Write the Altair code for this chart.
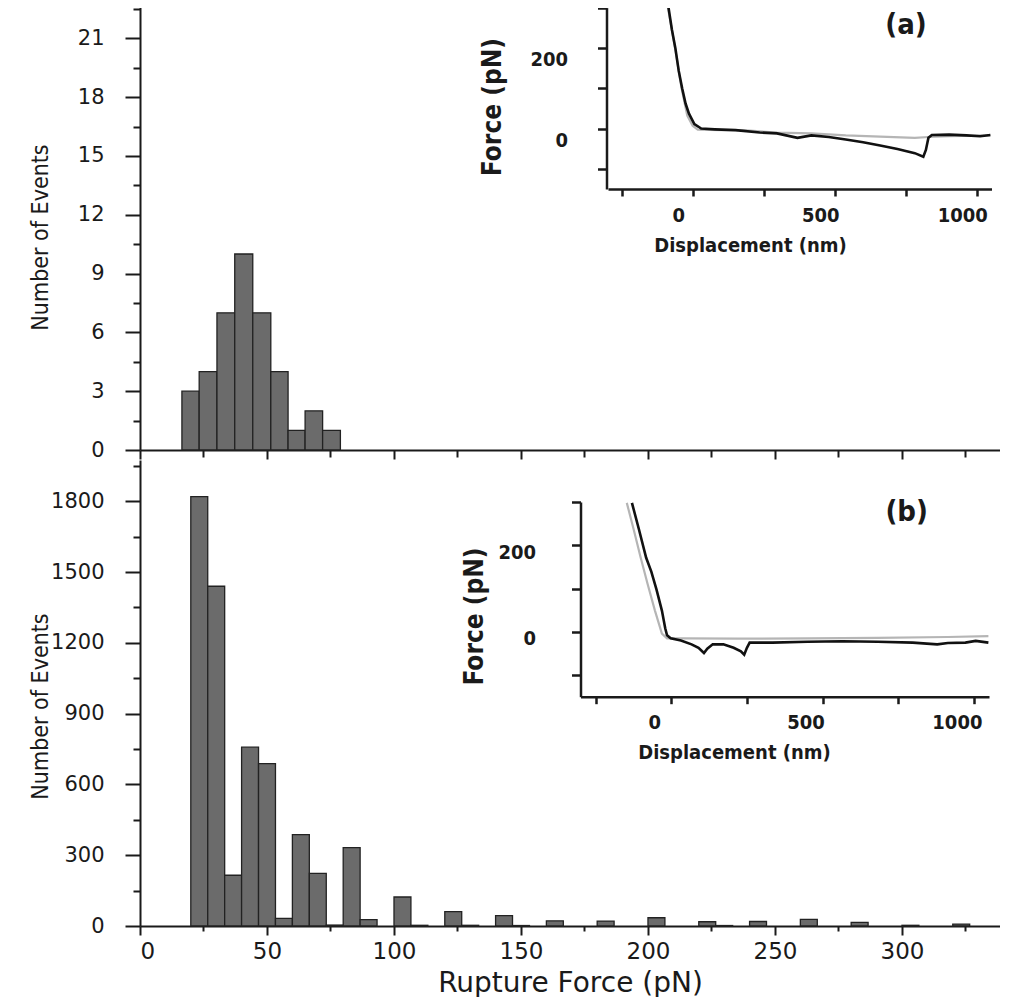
import altair as alt
import pandas as pd

# ---------------- data ----------------
# (a) histogram: bin edges (pN) and counts
top_edges = [16.5, 23.3, 30.3, 37.3, 44.4, 51.5, 58.3, 65.0, 71.9, 78.9]
top_counts = [3, 4, 7, 10, 7, 4, 1, 2, 1]

# (b) histogram: bin left edges (pN), counts; bin width 20/3 pN
bin_w = 20 / 3
bottom_left = [20, 26.67, 33.33, 40, 46.67, 53.33, 60, 66.67, 73.33, 80, 86.67,
               100, 106.67, 120, 126.67, 140, 146.67, 160, 180, 200, 220, 226.67,
               240, 260, 280, 300, 320]
bottom_counts = [1820, 1440, 215, 758, 688, 32, 387, 223, 4, 332, 27,
                 123, 3, 61, 3, 44, 2, 22, 21, 35, 18, 2,
                 19, 28, 15, 3, 8]

# inset (a) force curves
a_black_x = [-87, -75, -63, -51, -39, -27, -15, 4, 28, 76, 149, 234, 295, 367, 416,
             477, 537, 598, 658, 719, 780, 810, 819, 828, 840, 901, 962, 1010, 1046]
a_black_y = [300, 245, 200, 143, 100, 62, 37, 11, 0, -2, -4, -10, -12, -23, -17,
             -21, -27, -34, -42, -51, -61, -70, -53, -23, -16, -15, -17, -19, -16]
a_gray_x = [-89, -64, -41, -21, -2, 16, 100, 173, 295, 416, 537, 658, 780, 828, 901, 1046]
a_gray_y = [300, 200, 100, 32, 7, -3, -4, -4, -10, -12, -17, -20, -23, -21, -19, -17]

# inset (b) force curves
b_black_x = [-130, -107, -83, -66, -49, -31, -20, -14, -2, 32, 67, 90, 108, 119, 137,
             172, 206, 230, 241, 250, 259, 334, 450, 566, 682, 798, 879, 914, 972, 1006, 1048]
b_black_y = [298, 237, 171, 139, 98, 49, 8, -8, -15, -20, -29, -37, -49, -39, -29,
             -29, -37, -45, -53, -37, -25, -25, -23, -22, -23, -25, -29, -26, -25, -21, -25]
b_gray_x = [-147, -124, -101, -78, -54, -31, -14, 44, 218, 450, 682, 914, 1048]
b_gray_y = [298, 236, 171, 110, 49, -4, -15, -15, -16, -15, -14, -12, -10]

# ---------------- style ----------------
FONT = "DejaVu Sans"
NARROW = "Liberation Sans Narrow, DejaVu Sans Condensed, DejaVu Sans, sans-serif"
INK = "#1a1a1a"
BAR = "#6b6b6b"
W = 860
HT = 443
HB = 466

top_df = pd.DataFrame({"x0": top_edges[:-1], "x1": top_edges[1:], "n": top_counts,
                       "base": [0] * len(top_counts)})
bot_df = pd.DataFrame({"x0": bottom_left, "x1": [v + bin_w for v in bottom_left],
                       "n": bottom_counts, "base": [0] * len(bottom_counts)})

xdom = [0, 338.6]
xticks = list(range(0, 326, 25))


def yaxis(step, major, maxv, title_y):
    vals = [round(i * step, 6) for i in range(int(maxv / step) + 1)]
    return alt.Axis(
        values=vals, orient="left", grid=False, format="d",
        labelExpr=f"datum.value % {major} === 0 ? datum.label : ''",
        labelFont=FONT, labelFontSize=21, labelColor=INK, labelPadding=21,
        tickSize={"condition": {"test": f"datum.value % {major} === 0", "value": 15}, "value": 7},
        tickColor=INK, tickWidth=2, domainColor=INK, domainWidth=2,
        title="Number of Events", titleFont=NARROW, titleFontSize=23,
        titleFontWeight="normal", titleColor=INK, titleX=-100, titleY=title_y,
        titleAlign="center", titleBaseline="middle", titleAngle=270,
    )


def hist(df, ymax, step, major, xaxis, title_y):
    return alt.Chart(df).mark_rect(fill=BAR, stroke="#222", strokeWidth=1.3).encode(
        x=alt.X("x0:Q", scale=alt.Scale(domain=xdom, nice=False, zero=False), axis=xaxis),
        x2="x1:Q",
        y=alt.Y("n:Q", scale=alt.Scale(domain=[0, ymax], nice=False),
                axis=yaxis(step, major, ymax, title_y)),
        y2="base:Q",
    )


top_xaxis = alt.Axis(values=xticks, labels=False, title=None, grid=False, orient="bottom",
                     tickSize={"condition": {"test": "datum.value % 50 === 0", "value": 9}, "value": 7},
                     tickColor=INK, tickWidth=2, domainColor=INK, domainWidth=2)
bot_xaxis = alt.Axis(values=xticks, grid=False, orient="bottom", format="d",
                     labelExpr="datum.value % 50 === 0 ? datum.label : ''",
                     labelFont=FONT, labelFontSize=23, labelColor=INK, labelPadding=5,
                     tickSize={"condition": {"test": "datum.value % 50 === 0", "value": 9}, "value": 5},
                     tickColor=INK, tickWidth=2, domainColor=INK, domainWidth=2,
                     title="Rupture Force (pN)", titleFont=FONT, titleFontSize=28,
                     titleFontWeight="normal", titleColor=INK, titlePadding=6)


def inset_layers(gx, gy, bx, by, label, lx, ly, xr, yr, xoff, yoff, xtitle_x, ytitle_x, ytitle_y,
                 ylab_pad, ylab_off, xlab_off):
    def xs():
        return alt.Scale(domain=[-300, 1050], range=xr, nice=False, zero=False)

    def ys():
        return alt.Scale(domain=[-150, 300], range=yr, nice=False, zero=False)

    xax = alt.Axis(orient="bottom", offset=xoff, values=[-250, 0, 250, 500, 750, 1000],
                   format="d", grid=False,
                   labelExpr="datum.value % 500 === 0 ? datum.label : ''",
                   labelFont=NARROW, labelFontWeight="bold", labelFontSize=20, labelColor=INK,
                   labelOffset=xlab_off, labelPadding=9,
                   tickSize=7, tickWidth=2.5, tickColor=INK, domainWidth=2.5, domainColor=INK,
                   title="Displacement (nm)", titleFont=NARROW, titleFontWeight="bold",
                   titleFontSize=20, titleColor=INK, titleX=xtitle_x, titleAlign="center",
                   titlePadding=10)
    yax = alt.Axis(orient="left", offset=yoff, values=[-100, 0, 100, 200, 300], format="d",
                   grid=False,
                   labelExpr="datum.value === 0 || datum.value === 200 ? datum.label : ''",
                   labelFont=NARROW, labelFontWeight="bold", labelFontSize=20, labelColor=INK,
                   labelPadding=ylab_pad, labelOffset=ylab_off,
                   tickSize=9, tickWidth=2.5, tickColor=INK, domainWidth=2.5, domainColor=INK,
                   title="Force (pN)", titleFont=NARROW, titleFontWeight="bold",
                   titleFontSize=26, titleColor=INK, titleX=ytitle_x, titleY=ytitle_y,
                   titleAlign="center", titleBaseline="middle", titleAngle=270)
    gdf = pd.DataFrame({"x": gx, "y": gy, "i": list(range(len(gx)))})
    bdf = pd.DataFrame({"x": bx, "y": by, "i": list(range(len(bx)))})
    tdf = pd.DataFrame({"x": [lx], "y": [ly], "t": [label]})
    gray = alt.Chart(gdf).mark_line(color="#b5b5b5", strokeWidth=2.2).encode(
        x=alt.X("x:Q", scale=xs(), axis=xax), y=alt.Y("y:Q", scale=ys(), axis=yax), order="i:Q")
    black = alt.Chart(bdf).mark_line(color="#111111", strokeWidth=2.6).encode(
        x=alt.X("x:Q", scale=xs(), axis=None), y=alt.Y("y:Q", scale=ys(), axis=None), order="i:Q")
    txt = alt.Chart(tdf).mark_text(font=NARROW, fontWeight="bold", fontSize=29, color=INK).encode(
        x=alt.X("x:Q", scale=xs(), axis=None), y=alt.Y("y:Q", scale=ys(), axis=None), text="t:N")
    return [gray, black, txt]


inset_a = inset_layers(a_gray_x, a_gray_y, a_black_x, a_black_y, "(a)", 749, 257,
                       [468, 851.5], [182, 0.6], -261, -466.5, 610, -114.5, 99.6, 30, 12, -15)
inset_b = inset_layers(b_gray_x, b_gray_y, b_black_x, b_black_y, "(b)", 778, 276,
                       [440.5, 849], [236.7, 42], -229.3, -440.5, 594, -106, 156, 36, 7, -17)

top = alt.layer(hist(top_df, 22.6, 1.5, 3, top_xaxis, 230), *inset_a).resolve_scale(
    x="independent", y="independent").properties(width=W, height=HT)
bottom = alt.layer(hist(bot_df, 1975, 150, 300, bot_xaxis, 246), *inset_b).resolve_scale(
    x="independent", y="independent").properties(width=W, height=HB)

chart = alt.vconcat(top, bottom, spacing=-3).properties(
    padding={"left": 21, "top": -6, "right": 0, "bottom": 0},
    background="white",
).configure_view(stroke="transparent", strokeWidth=0)

chart.save("out.html", embed_options={"renderer": "svg", "actions": False})
